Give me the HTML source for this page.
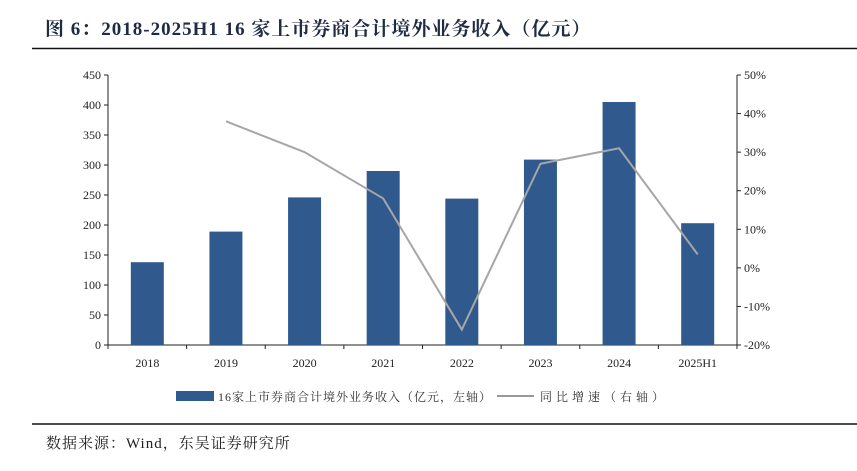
<!DOCTYPE html>
<html><head><meta charset="utf-8"><style>
body{margin:0;width:857px;height:466px;background:#fff;overflow:hidden;font-family:"Liberation Serif","Noto Serif CJK SC",serif}
svg text{font-family:"Liberation Serif","Noto Serif CJK SC",serif}
</style></head><body>
<svg id="c" width="857" height="466">
<text x="45" y="35" font-size="19" font-weight="bold" fill="#1f2a44" letter-spacing="1">图 6：2018-2025H1 16 家上市券商合计境外业务收入（亿元）</text>
<line x1="32" y1="48.5" x2="857" y2="48.5" stroke="#111" stroke-width="1.5"/>
<line x1="32" y1="424" x2="857" y2="424" stroke="#111" stroke-width="1.5"/>
<text x="46" y="448" font-size="15" fill="#222" letter-spacing="1">数据来源：Wind，东吴证券研究所</text>
<g id="plot"></g>
<rect x="176" y="391" width="38" height="10" fill="#305a8e"/>
<text x="218" y="401" font-size="12" fill="#333" letter-spacing="1">16家上市券商合计境外业务收入（亿元，左轴）</text>
<line x1="497" y1="396" x2="534" y2="396" stroke="#999" stroke-width="2"/>
<text x="540" y="401" font-size="12" fill="#333" letter-spacing="4">同比增速（右轴）</text>
</svg>
<script>
const categories=["2018","2019","2020","2021","2022","2023","2024","2025H1"];
const revenue=[138,189,246,290,244,309,405,203];
const growth=[null,38,30,18,-16,27,31,3.5];
const leftTicks=[0,50,100,150,200,250,300,350,400,450];
const rightTicks=[-20,-10,0,10,20,30,40,50];
const NS="http://www.w3.org/2000/svg";
const g=document.getElementById('plot');
const X0=108,X1=737,Y0=345,Y1=75;
const yL=v=>Y0-(v-0)/450*(Y0-Y1);
const yR=v=>Y0-(v+20)/70*(Y0-Y1);
const step=(X1-X0)/categories.length;
const xC=i=>X0+step*(i+0.5);
function mk(t,a){const e=document.createElementNS(NS,t);for(const k in a)e.setAttribute(k,a[k]);g.appendChild(e);return e;}
let e;
e=mk('line',{x1:X0,y1:Y1,x2:X0,y2:Y0,stroke:'#222'});


e=mk('line',{x1:X1,y1:Y1,x2:X1,y2:Y0,stroke:'#222'});


e=mk('line',{x1:X0,y1:Y0,x2:X1,y2:Y0,stroke:'#222'});


leftTicks.forEach(v=>{
 mk('line',{x1:X0-4,y1:yL(v),x2:X0,y2:yL(v),stroke:'#222'});
 e=mk('text',{x:X0-7,y:yL(v)+4,'font-size':12,'text-anchor':'end',fill:'#222'});e.textContent=v;
 
 
});
rightTicks.forEach(v=>{
 mk('line',{x1:X1,y1:yR(v),x2:X1+4,y2:yR(v),stroke:'#222'});
 e=mk('text',{x:X1+7,y:yR(v)+4,'font-size':12,fill:'#222'});e.textContent=v+'%';
 
 
});
for(let i=0;i<=categories.length;i++)mk('line',{x1:X0+step*i,y1:Y0,x2:X0+step*i,y2:Y0+4,stroke:'#222'});
categories.forEach((c,i)=>{
 e=mk('rect',{x:xC(i)-16.5,y:yL(revenue[i]),width:33,height:Y0-yL(revenue[i]),fill:'#305a8e'});
 
 
 e=mk('text',{x:xC(i),y:Y0+22,'font-size':12,'text-anchor':'middle',fill:'#222'});e.textContent=c;
 
 
});
const pts=growth.map((v,i)=>v==null?null:xC(i)+','+yR(v)).filter(p=>p);
e=mk('polyline',{points:pts.join(' '),fill:'none',stroke:'#a6a6a6','stroke-width':2});


</script>
</body></html>
